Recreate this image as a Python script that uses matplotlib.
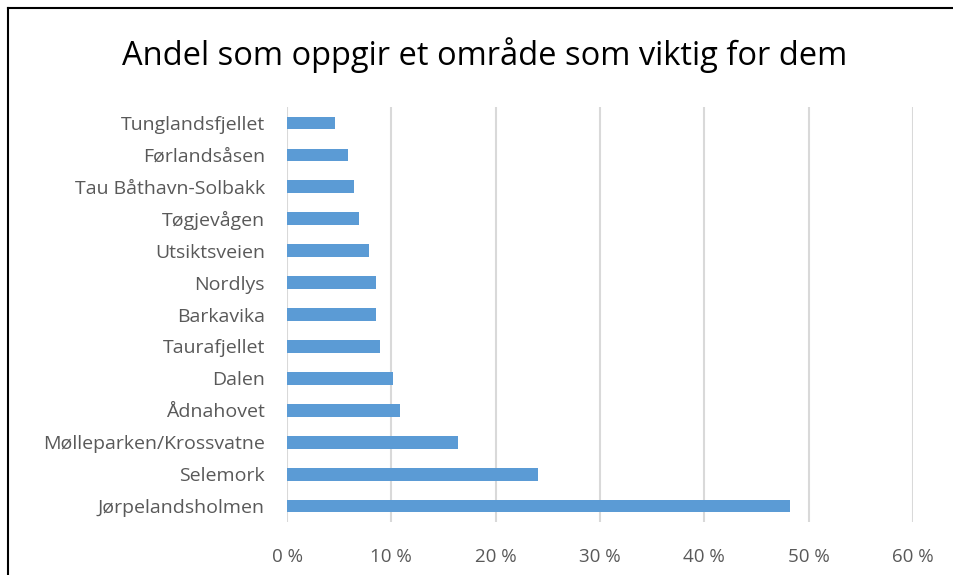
import matplotlib
matplotlib.use("Agg")
import matplotlib.pyplot as plt
from matplotlib.lines import Line2D

categories = ["Tunglandsfjellet", "Førlandsåsen", "Tau Båthavn-Solbakk", "Tøgjevågen",
              "Utsiktsveien", "Nordlys", "Barkavika", "Taurafjellet", "Dalen",
              "Ådnahovet", "Mølleparken/Krossvatne", "Selemork", "Jørpelandsholmen"]
values = [4.6, 5.8, 6.4, 6.9, 7.9, 8.5, 8.5, 8.9, 10.2, 10.8, 16.4, 24.1, 48.2]
xticks = [0, 10, 20, 30, 40, 50, 60]
xticklabels = ["0 %", "10 %", "20 %", "30 %", "40 %", "50 %", "60 %"]
title = "Andel som oppgir et område som viktig for dem"

W, H = 954, 575
fig = plt.figure(figsize=(W/100, H/100), dpi=100)
plt.rcParams['font.family'] = ['Open Sans', 'DejaVu Sans']

ax = fig.add_axes([287/W, 1-522/H, (913-287)/W, (522-107)/H])
n = len(categories)
ypos = list(range(n))
ax.barh(ypos, values, height=0.4, color="#5b9bd5", zorder=3)
ax.set_ylim(n-0.5, -0.5)
ax.set_xlim(0, 60)
ax.set_xticks(xticks)
ax.set_xticklabels(xticklabels, fontsize=13.5, color="#595959")
ax.set_yticks(ypos)
ax.set_yticklabels(categories, fontsize=14, color="#595959")
ax.tick_params(axis='both', length=0)
ax.tick_params(axis='x', pad=19)
ax.tick_params(axis='y', pad=16)
ax.grid(axis='x', color="#d9d9d9", linewidth=1.5, zorder=0)
for s in ax.spines.values():
    s.set_visible(False)

fig.text(485/W, 1-55/H, title, ha='center', va='center', fontsize=23.5, color="black")

fig.add_artist(Line2D([8/W, 8/W], [0, 1-8/H], color='black', lw=1.5, transform=fig.transFigure))
fig.add_artist(Line2D([8/W, 1], [1-8/H, 1-8/H], color='black', lw=1.5, transform=fig.transFigure))

fig.savefig("out.png", dpi=100)
